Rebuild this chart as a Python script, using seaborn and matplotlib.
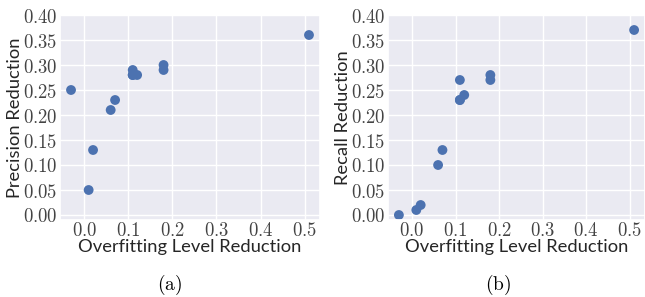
import matplotlib
matplotlib.use("Agg")
import matplotlib.pyplot as plt
import pandas as pd
import seaborn as sns
from matplotlib.ticker import FuncFormatter

overfit_reduction = [-0.03, 0.01, 0.02, 0.06, 0.07, 0.11, 0.11, 0.12, 0.11, 0.18, 0.18, 0.51]
precision_reduction = [0.25, 0.05, 0.13, 0.21, 0.23, 0.29, 0.28, 0.28, 0.28, 0.30, 0.29, 0.36]
recall_reduction = [0.00, 0.01, 0.02, 0.10, 0.13, 0.27, 0.23, 0.24, 0.23, 0.28, 0.27, 0.37]
x_ticks = [0.0, 0.1, 0.2, 0.3, 0.4, 0.5]
y_ticks = [0.00, 0.05, 0.10, 0.15, 0.20, 0.25, 0.30, 0.35, 0.40]

sns.set_theme(style="darkgrid")
plt.rcParams["mathtext.fontset"] = "cm"
plt.rcParams["font.family"] = ["Lato", "DejaVu Sans"]

df = pd.DataFrame({
    "overfit": overfit_reduction,
    "precision": precision_reduction,
    "recall": recall_reduction,
})

fig = plt.figure(figsize=(6.45, 2.97), dpi=100)
ax_a = fig.add_axes([60 / 645, 77 / 297, 260 / 645, 205 / 297])
ax_b = fig.add_axes([388 / 645, 77 / 297, 257 / 645, 205 / 297])

panels = [(ax_a, "precision", "Precision Reduction", "a", 170),
          (ax_b, "recall", "Recall Reduction", "b", 498)]
for ax, col, ylabel, tag, cx in panels:
    sns.scatterplot(data=df, x="overfit", y=col, ax=ax, s=50, color="#4c72b0",
                    edgecolor="none", linewidth=0)
    ax.set_xlim(-0.055, 0.535)
    ax.set_ylim(-0.01, 0.40)
    ax.set_xticks(x_ticks)
    ax.set_yticks(y_ticks)
    ax.xaxis.set_major_formatter(FuncFormatter(lambda v, _: f"${v:.1f}$"))
    ax.yaxis.set_major_formatter(FuncFormatter(lambda v, _: f"${v:.2f}$"))
    ax.tick_params(axis="both", labelsize=13.5, colors="#444444", length=0)
    ax.tick_params(axis="y", pad=2)
    ax.tick_params(axis="x", pad=1)
    ax.set_xlabel("Overfitting Level Reduction", fontsize=13.2, color="#262626", labelpad=0)
    ax.set_ylabel(ylabel, fontsize=13.2, color="#262626", labelpad=0)
    fig.text(cx / 645, 1 - 285 / 297, rf"$\mathrm{{({tag})}}$", ha="center", va="center",
             fontsize=14, color="black")

fig.savefig("out.png", dpi=100)
